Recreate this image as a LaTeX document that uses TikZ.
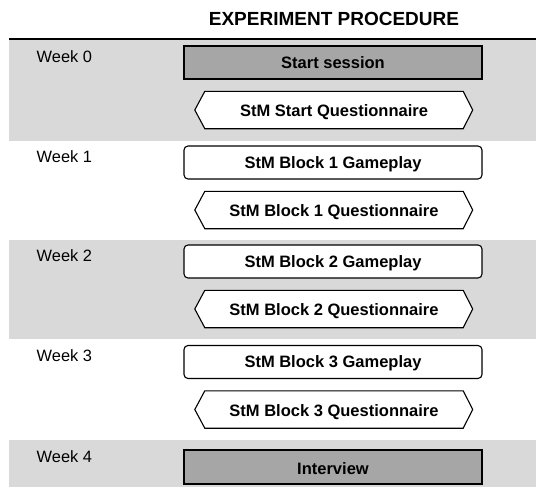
\documentclass[tikz,border=0pt]{standalone}
\usepackage{fontspec}
\setmainfont{Liberation Sans}
\definecolor{bandgray}{HTML}{D9D9D9}
\definecolor{boxgray}{HTML}{A6A6A6}
\tikzset{
  bandfill/.style={fill=bandgray,draw=none},
  weeklbl/.style={anchor=base west,inner sep=0pt,font=\fontsize{16.4}{18}\selectfont},
  titlelbl/.style={anchor=base,inner sep=0pt,font=\fontsize{19}{21}\selectfont\bfseries},
  boxbase/.style={draw=black,line width=1.1pt,minimum width=298pt,minimum height=33pt,inner sep=0pt,
    font=\fontsize{16.5}{18}\selectfont\bfseries,text height=11.8pt,text depth=0pt},
  graybox/.style={boxbase,fill=boxgray},
  playbox/.style={boxbase,fill=white,rounded corners=4pt},
  qtext/.style={minimum width=258pt,minimum height=37pt,inner sep=0pt,
    font=\fontsize{16.5}{18}\selectfont\bfseries,text height=11.8pt,text depth=0pt},
  qframe/.style={draw=black,fill=white,line width=1.1pt,line join=miter},
  rule/.style={draw=black,line width=2.7pt}
}
\newcommand{\hexframe}[1]{%
  \draw[qframe] (#1.north west) -- (#1.north east) -- ([xshift=9.5pt]#1.east) -- (#1.south east)
    -- (#1.south west) -- ([xshift=-10pt]#1.west) -- cycle;}
\begin{document}
\begin{tikzpicture}[x=1pt,y=-1pt]
\useasboundingbox (0,0) rectangle (536,493);
% bands
\fill[bandfill] (9,39) rectangle (536,141);
\fill[bandfill] (9,240) rectangle (536,339);
\fill[bandfill] (9,440) rectangle (536,487);
\draw[rule] (9,39) -- (536,39);
% title
\node[titlelbl] (title) at (334,25.5) {EXPERIMENT PROCEDURE};
% week labels
\node[weeklbl] (w0) at (36.5,62) {Week 0};
\node[weeklbl] (w1) at (36.5,162.5) {Week 1};
\node[weeklbl] (w2) at (36.5,261.5) {Week 2};
\node[weeklbl] (w3) at (36.5,361.5) {Week 3};
\node[weeklbl] (w4) at (36.5,462) {Week 4};
% week 0
\node[graybox] (s0) at (333,62.5) {Start session};
\node[qtext] (q0) at (334,110) {};
\hexframe{q0}
\node[qtext] (q0t) at (334,111) {StM Start Questionnaire};
% week 1
\node[playbox] (g1) at (333,162.5) {StM Block 1 Gameplay};
\node[qtext] (q1) at (334,210) {};
\hexframe{q1}
\node[qtext] (q1t) at (334,211) {StM Block 1 Questionnaire};
% week 2
\node[playbox] (g2) at (333,261.5) {StM Block 2 Gameplay};
\node[qtext] (q2) at (334,309) {};
\hexframe{q2}
\node[qtext] (q2t) at (334,310) {StM Block 2 Questionnaire};
% week 3
\node[playbox] (g3) at (333,362) {StM Block 3 Gameplay};
\node[qtext] (q3) at (334,409.5) {};
\hexframe{q3}
\node[qtext] (q3t) at (334,410.5) {StM Block 3 Questionnaire};
% week 4
\node[graybox,minimum height=34pt] (iv) at (333,467) {};
\node[qtext] (ivt) at (333,469) {Interview};
\end{tikzpicture}
\end{document}
